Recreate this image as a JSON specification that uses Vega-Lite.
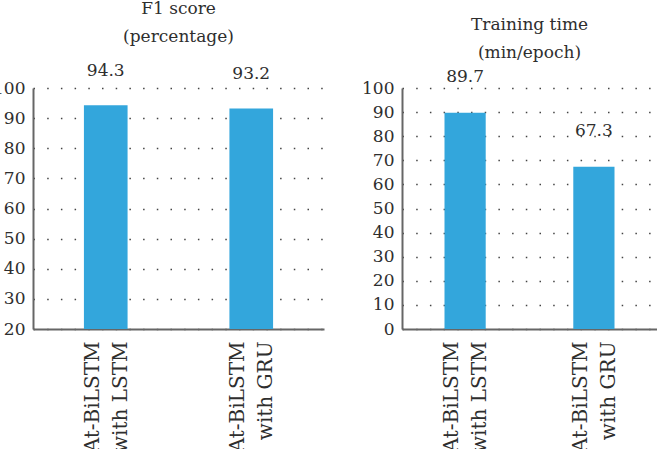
{
  "$schema": "https://vega.github.io/schema/vega-lite/v6.json",
  "padding": {"left": -8, "top": 0, "right": 0, "bottom": 0},
  "background": "white",
  "datasets": {
    "f1": [
      {"model": "At-BiLSTM|with LSTM", "value": 94.3},
      {"model": "At-BiLSTM|with GRU", "value": 93.2}
    ],
    "time": [
      {"model": "At-BiLSTM|with LSTM", "value": 89.7},
      {"model": "At-BiLSTM|with GRU", "value": 67.3}
    ]
  },
  "config": {
    "font": "DejaVu Serif",
    "view": {"stroke": null},
    "title": {"font": "DejaVu Serif", "fontSize": 17, "fontWeight": "normal", "color": "#2e2e2e", "lineHeight": 28, "anchor": "middle", "frame": "group"},
    "axis": {
      "labelFont": "DejaVu Serif", "labelFontSize": 17, "labelColor": "#2e2e2e",
      "domainColor": "#666666", "domainWidth": 2, "ticks": false, "title": null
    },
    "axisY": {"grid": true, "gridDash": [1.5, 12.2], "gridColor": "#444444", "gridWidth": 1.5, "labelPadding": 8},
    "axisX": {"grid": false, "labelAngle": -90, "labelAlign": "right", "labelBaseline": "middle", "labelPadding": 12, "labelOffset": -13, "labelLineHeight": 28, "labelExpr": "split(datum.label, '|')", "labelOverlap": false, "labelLimit": 0, "labelFontSize": 20},
    "text": {"font": "DejaVu Serif", "fontSize": 17, "color": "#2e2e2e"}
  },
  "hconcat": [
    {
      "width": 291, "height": 241,
      "title": {"text": ["F1 score", "(percentage)"], "offset": 16},
      "data": {"name": "f1"},
      "encoding": {
        "x": {"field": "model", "type": "nominal", "sort": null, "scale": {"paddingInner": 0.7, "paddingOuter": 0.35}},
        "y": {"field": "value", "type": "quantitative", "scale": {"domain": [20, 100], "nice": false, "zero": false}, "axis": {"values": [20, 30, 40, 50, 60, 70, 80, 90, 100]}}
      },
      "layer": [
        {"mark": {"type": "bar", "color": "#33a6dc", "clip": true}},
        {"mark": {"type": "text", "baseline": "middle", "dy": -34}, "encoding": {"text": {"field": "value", "type": "quantitative", "format": ".1f"}}}
      ]
    },
    {
      "width": 255, "height": 241,
      "title": {"text": ["Training time", "(min/epoch)"], "offset": 6},
      "data": {"name": "time"},
      "encoding": {
        "x": {"field": "model", "type": "nominal", "sort": null, "scale": {"paddingInner": 0.68, "paddingOuter": 0.33}},
        "y": {"field": "value", "type": "quantitative", "scale": {"domain": [0, 100], "nice": false}, "axis": {"values": [0, 10, 20, 30, 40, 50, 60, 70, 80, 90, 100]}}
      },
      "layer": [
        {"mark": {"type": "bar", "color": "#33a6dc"}},
        {"mark": {"type": "text", "baseline": "middle", "dy": -36}, "encoding": {"text": {"field": "value", "type": "quantitative", "format": ".1f"}}}
      ]
    }
  ],
  "spacing": 78,
  "bounds": "flush"
}
